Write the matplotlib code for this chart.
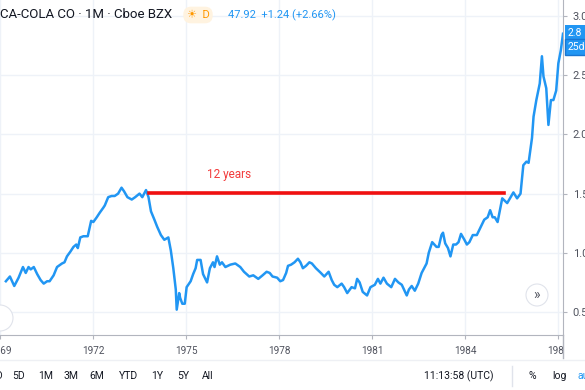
import matplotlib.pyplot as plt
from matplotlib.patches import Ellipse
from matplotlib.transforms import Bbox, TransformedBbox

# monthly close, decimal years
years = [1969.19, 1969.32, 1969.46, 1969.60, 1969.74, 1969.83, 1969.92, 1969.99,
         1970.09, 1970.20, 1970.31, 1970.41, 1970.52, 1970.60, 1970.73, 1970.84,
         1971.00, 1971.08, 1971.16, 1971.27, 1971.37, 1971.46, 1971.51, 1971.59,
         1971.69, 1971.83, 1971.94, 1972.01, 1972.12, 1972.22, 1972.33, 1972.38,
         1972.49, 1972.60, 1972.70, 1972.81, 1972.92, 1973.00, 1973.11, 1973.25,
         1973.36, 1973.50, 1973.59, 1973.71, 1973.79, 1973.87, 1973.98, 1974.07,
         1974.19, 1974.30, 1974.43, 1974.51, 1974.59, 1974.67, 1974.70, 1974.78,
         1974.81, 1974.88, 1974.96, 1975.02, 1975.15, 1975.23, 1975.31, 1975.36,
         1975.47, 1975.55, 1975.68, 1975.77, 1975.87, 1975.92, 1976.00, 1976.09,
         1976.16, 1976.27, 1976.43, 1976.59, 1976.75, 1976.87, 1977.04, 1977.17,
         1977.33, 1977.47, 1977.60, 1977.70, 1977.79, 1977.94, 1978.04, 1978.13,
         1978.23, 1978.29, 1978.39, 1978.50, 1978.61, 1978.69, 1978.77, 1978.87,
         1978.98, 1979.06, 1979.19, 1979.35, 1979.46, 1979.60, 1979.70, 1979.78,
         1979.88, 1980.02, 1980.10, 1980.20, 1980.34, 1980.45, 1980.52, 1980.60,
         1980.70, 1980.84, 1980.95, 1981.09, 1981.19, 1981.27, 1981.37, 1981.48,
         1981.62, 1981.74, 1981.85, 1981.96, 1982.12, 1982.19, 1982.28, 1982.38,
         1982.49, 1982.60, 1982.76, 1982.83, 1982.94, 1983.08, 1983.15, 1983.24,
         1983.29, 1983.36, 1983.45, 1983.53, 1983.62, 1983.71, 1983.79, 1983.87,
         1983.98, 1984.06, 1984.14, 1984.25, 1984.38, 1984.51, 1984.62, 1984.73,
         1984.81, 1984.89, 1984.96, 1985.05, 1985.20, 1985.36, 1985.56, 1985.68,
         1985.79, 1985.88, 1985.98, 1986.05, 1986.16, 1986.21, 1986.30, 1986.41,
         1986.48, 1986.53, 1986.62, 1986.69, 1986.77, 1986.85, 1986.94, 1987.01,
         1987.09, 1987.16]
close = [0.76, 0.80, 0.72, 0.79, 0.88, 0.83, 0.88, 0.86,
         0.88, 0.82, 0.77, 0.74, 0.76, 0.76, 0.81, 0.88,
         0.91, 0.92, 0.97, 1.01, 1.05, 1.07, 1.04, 1.13,
         1.14, 1.14, 1.27, 1.26, 1.30, 1.34, 1.38, 1.40,
         1.47, 1.48, 1.48, 1.50, 1.55, 1.52, 1.47, 1.45,
         1.47, 1.50, 1.47, 1.53, 1.47, 1.35, 1.28, 1.22,
         1.15, 1.11, 1.13, 1.02, 0.87, 0.69, 0.52, 0.66,
         0.62, 0.57, 0.57, 0.71, 0.76, 0.82, 0.87, 0.94,
         0.94, 0.82, 0.75, 0.87, 0.92, 0.88, 0.97, 0.90,
         0.92, 0.88, 0.90, 0.91, 0.88, 0.84, 0.80, 0.81,
         0.78, 0.81, 0.84, 0.83, 0.80, 0.79, 0.76, 0.77,
         0.83, 0.89, 0.90, 0.92, 0.95, 0.92, 0.87, 0.89,
         0.92, 0.91, 0.87, 0.83, 0.80, 0.84, 0.77, 0.73,
         0.71, 0.74, 0.71, 0.66, 0.71, 0.70, 0.78, 0.75,
         0.67, 0.64, 0.71, 0.73, 0.78, 0.74, 0.79, 0.74,
         0.71, 0.78, 0.75, 0.73, 0.64, 0.69, 0.72, 0.68,
         0.74, 0.83, 0.91, 1.00, 1.09, 1.05, 1.05, 1.15,
         1.17, 1.08, 1.04, 0.97, 1.07, 1.07, 1.09, 1.16,
         1.11, 1.07, 1.09, 1.15, 1.15, 1.22, 1.28, 1.30,
         1.36, 1.30, 1.30, 1.26, 1.46, 1.42, 1.51, 1.46,
         1.50, 1.74, 1.77, 1.76, 1.97, 2.15, 2.29, 2.43,
         2.66, 2.49, 2.39, 2.08, 2.29, 2.29, 2.37, 2.60,
         2.71, 2.85]

# the "12 years" flat line
flat_start, flat_end, flat_level = 1973.79, 1985.25, 1.505
note_x, note_y = 1976.40, 1.665

x_ticks = [1969, 1972, 1975, 1978, 1981, 1984, 1987]
y_ticks = [0.5, 1.0, 1.5, 2.0, 2.5, 3.0]
ranges = ['1D', '5D', '1M', '3M', '6M', 'YTD', '1Y', '5Y', 'All']
range_x = [-4, 19, 46, 71, 97, 128, 157, 183, 208]

plt.rcParams['font.family'] = ['Roboto', 'DejaVu Sans']
W, H = 585, 390
fig = plt.figure(figsize=(5.85, 3.9), dpi=100)
ax = fig.add_axes([0, 1 - 335 / H, 563 / W, 335 / H])

grid_c = '#eef2f8'
for t in x_ticks:
    ax.axvline(t, color=grid_c, lw=1, zorder=0)
for t in y_ticks:
    ax.axhline(t, color=grid_c, lw=1, zorder=0)

ax.plot(years, close, color='#2196f3', lw=1.8, zorder=3)
ax.plot([flat_start, flat_end], [flat_level, flat_level], color='#f01010', lw=2.6, zorder=4)
ax.text(note_x, note_y, '12 years', color='#f23c3c', fontsize=8.5, ha='center', va='center')

ax.set_xlim(1969.19, 1987.16)
ax.set_ylim(0.306, 3.135)
ax.set_xticks(x_ticks)
ax.set_xticklabels([str(t) for t in x_ticks])
ax.set_yticks(y_ticks)
ax.set_yticklabels(['%.1f' % t for t in y_ticks])
ax.yaxis.tick_right()
ax.tick_params(axis='x', length=3, color='#b2b5be', labelsize=7.2, labelcolor='#50535e', pad=5)
ax.tick_params(axis='y', length=3, color='#b2b5be', labelsize=8, labelcolor='#50535e', pad=4)
for s in ['top', 'left']:
    ax.spines[s].set_visible(False)
ax.spines['right'].set_color('#b2b5be')
ax.spines['bottom'].set_color('#b2b5be')

# time labels are cut at the price scale
clip = TransformedBbox(Bbox([[0, 0], [563 / W, 1]]), fig.transFigure)
for lab in ax.get_xticklabels():
    lab.set_clip_on(True)
    lab.set_clip_box(clip)

def fx(px):
    return px / W

def fy(py):
    return 1 - py / H

# header legend
fig.text(fx(0), fy(15), 'CA-COLA CO \u00b7 1M \u00b7 Cboe BZX', fontsize=9.5, color='#131722', va='center')
fig.text(fx(198), fy(15), '\u2600  D', fontsize=8, color='#ff9800', va='center', ha='center',
         bbox=dict(boxstyle='round,pad=0.3,rounding_size=0.7', fc='#fff3e0', ec='none'))
fig.text(fx(228), fy(15), '47.92  +1.24 (+2.66%)', fontsize=8, color='#2196f3', va='center')

# last price boxes on the price scale
fig.text(fx(568), fy(33), '2.8', fontsize=7.5, color='white', va='center',
         bbox=dict(boxstyle='square,pad=0.25', fc='#2196f3', ec='none'))
fig.text(fx(568), fy(47), '25d', fontsize=7.5, color='white', va='center',
         bbox=dict(boxstyle='square,pad=0.25', fc='#2196f3', ec='#1976d2'))

# round buttons
fig.patches.append(Ellipse((fx(537), fy(295)), 22 / W, 22 / H, transform=fig.transFigure,
                           fc='white', ec='#e0e3eb', lw=0.8, zorder=5))
fig.text(fx(537), fy(295), '\u00bb', fontsize=10, color='#50535e', ha='center', va='center', zorder=6)
fig.patches.append(Ellipse((fx(0), fy(318)), 26 / W, 26 / H, transform=fig.transFigure,
                           fc='white', ec='#e0e3eb', lw=0.8, zorder=5))

# bottom toolbar
fig.add_artist(plt.Line2D([0, 1], [fy(360), fy(360)], color='#eef0f4', lw=1))
fig.add_artist(plt.Line2D([fx(563), fx(563)], [fy(335), fy(358)], color='#b2b5be', lw=1))
for lab, px in zip(ranges, range_x):
    fig.text(fx(px), fy(376), lab, fontsize=7.5, color='#131722', ha='center', va='center')
fig.text(fx(459), fy(376), '11:13:58 (UTC)', fontsize=7.5, color='#131722', ha='center', va='center')
fig.add_artist(plt.Line2D([fx(512), fx(512)], [fy(366), fy(386)], color='#e0e3eb', lw=1))
fig.text(fx(532), fy(376), '%', fontsize=7.5, color='#131722', ha='center', va='center')
fig.text(fx(559), fy(376), 'log', fontsize=7.5, color='#131722', ha='center', va='center')
fig.text(fx(578), fy(376), 'auto', fontsize=7.5, color='#2196f3', ha='left', va='center')

fig.savefig('out.png', dpi=100)
